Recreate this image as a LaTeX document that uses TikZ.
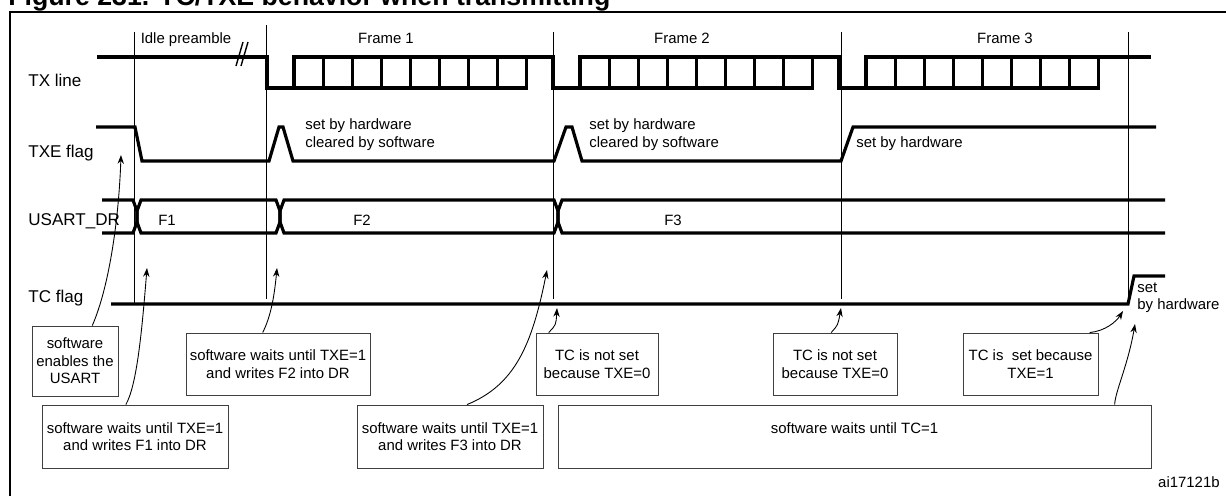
\documentclass[tikz,border=0pt]{standalone}
\usepackage{fontspec}
\setmainfont{Liberation Sans}
\usepackage{tikz}
\usetikzlibrary{positioning, arrows.meta}

\begin{document}
\begin{tikzpicture}[x=0.02cm, y=-0.02cm,
    sig/.style={line width=1.8pt},
    vline/.style={line width=0.5pt},
    lbl/.style={font=\fontsize{9.7}{11.6}\selectfont, inner sep=0pt, anchor=base west},
    txt/.style={font=\fontsize{8.5}{10}\selectfont, inner sep=0pt},
    tbox/.style={draw=black!75, line width=0.5pt, align=center, inner sep=0pt, font=\fontsize{8.5}{10}\selectfont},
    conn/.style={-{Stealth[length=5pt, width=3.6pt]}, line width=0.5pt}]

  \useasboundingbox (0,0) rectangle (1226,495);

  % frame and title
  \draw[line width=1.1pt] (10,12) rectangle (1260,530);
  \node[anchor=base west, inner sep=0pt, font=\fontsize{15.2}{18}\selectfont\bfseries] (title) at (8,5) {Figure 231. TC/TXE behavior when transmitting};

  % signal names
  \node[lbl] (txline) at (28,86) {TX line};
  \node[lbl] (txeflag) at (28,157) {TXE flag};
  \node[lbl] (usartdr) at (28,225) {USART\_DR};
  \node[lbl] (tcflag) at (28,302) {TC flag};

  % time marks
  \foreach \xa/\ya/\yb in {134/32/304, 266/25/299, 553/32/299, 841/32/299, 1128/32/305}
    \draw[vline] (\xa,\ya) -- (\xa,\yb);
  \node[txt, anchor=base] (idle) at (186,43) {Idle preamble};
  \node[txt, anchor=base] (frameone) at (386,43) {Frame 1};
  \node[txt, anchor=base] (frametwo) at (682,43) {Frame 2};
  \node[txt, anchor=base] (framethree) at (1005,43) {Frame 3};

  % TX line
  \draw[sig] (97,57) -- (267,57) -- (267,88) -- (294,88);
  \draw[sig] (527,57) -- (553,57) -- (553,88) -- (580,88);
  \draw[sig] (813,57) -- (839,57) -- (839,88) -- (866,88);
  \foreach \fs in {294,580,866}
    \foreach \bit in {0,...,7}
      \draw[sig] (\fs+\bit*29.1,57) rectangle (\fs+\bit*29.1+29.1,88);
  \draw[sig] (1099,57) -- (1151,57);
  \draw[line width=0.8pt] (236,66) -- (243,42) (241,66) -- (248,42);

  % TXE flag
  \draw[sig] (96,127) -- (135,127) -- (142,161) -- (269,161) -- (279,127) -- (283,127) -- (293,161)
    -- (554,161) -- (566,127) -- (572,127) -- (582,161) -- (841,161) -- (853,127) -- (1156,127);
  \node[txt, anchor=west, align=left] (hwsw1) at (305,134.5) {set by hardware\\cleared by software};
  \node[txt, anchor=west, align=left] (hwsw2) at (589,134.5) {set by hardware\\cleared by software};
  \node[txt, anchor=base west] (hwset) at (856,147) {set by hardware};

  % USART_DR
  \draw[sig] (102,200) -- (133,200) -- (137,211) -- (137,222) -- (141,233) -- (276,233) -- (280,222) -- (280,211)
    -- (284,200) -- (554,200) -- (558,211) -- (558,222) -- (562,233) -- (1165,233);
  \draw[sig] (102,233) -- (133,233) -- (137,222) -- (137,211) -- (141,200) -- (276,200) -- (280,211) -- (280,222)
    -- (284,233) -- (554,233) -- (558,222) -- (558,211) -- (562,200) -- (1165,200);
  \node[txt, anchor=base] (fone) at (167,225) {F1};
  \node[txt, anchor=base] (ftwo) at (362,225) {F2};
  \node[txt, anchor=base] (fthree) at (673,225) {F3};

  % TC flag
  \draw[sig] (111,304) -- (1128,304) -- (1134,276) -- (1165,276);
  \node[txt, anchor=west, align=left] (tchw) at (1137,297.5) {set\\by hardware};

  % comment boxes
  \node[tbox, minimum width=1.72cm, minimum height=1.40cm] (enable) at (75,361) {software\\enables the\\USART};
  \node[tbox, minimum width=3.72cm, minimum height=1.26cm] (waitfone) at (135,436.5) {software waits until TXE=1\\and writes F1 into DR};
  \node[tbox, minimum width=3.68cm, minimum height=1.24cm] (waitftwo) at (278,364) {software waits until TXE=1\\and writes F2 into DR};
  \node[tbox, minimum width=3.72cm, minimum height=1.26cm] (waitfthree) at (450,436.5) {software waits until TXE=1\\and writes F3 into DR};
  \node[tbox, minimum width=2.44cm, minimum height=1.24cm] (tcnotone) at (597,364) {TC is not set\\because TXE=0};
  \node[tbox, minimum width=2.48cm, minimum height=1.24cm] (tcnottwo) at (835,364) {TC is not set\\because TXE=0};
  \node[tbox, minimum width=2.70cm, minimum height=1.24cm] (tcset) at (1030.5,364) {TC is\ \ set because\\TXE=1};
  \node[tbox, minimum width=11.86cm, minimum height=1.26cm] (waittc) at (854.5,436.5) {software waits until TC=1\\~};

  % arrow tips
  \coordinate (txetip) at (121,155);
  \coordinate (fonetip) at (147,268);
  \coordinate (ftwotip) at (277,268);
  \coordinate (fthreetip) at (547,270);
  \coordinate (tconetip) at (557,308);
  \coordinate (tctwotip) at (841,308);
  \coordinate (tcsettip) at (1123,311);
  \coordinate (tcwaittip) at (1135,324);

  \draw[conn] (enable.64) .. controls (110,285) and (119,215) .. (txetip);
  \draw[conn] (waitfone.106) .. controls (137,385) and (142,330) .. (fonetip);
  \draw[conn] (waitftwo.116) .. controls (270,318) and (274,300) .. (ftwotip);
  \draw[conn] (waitfthree.62) .. controls (515,385) and (532,345) .. (fthreetip);
  \draw[conn] (tcnotone.147) .. controls (556,325) .. (tconetip);
  \draw[conn] (tcnottwo.97) .. controls (838,325) .. (tctwotip);
  \draw[conn] (tcset.28) .. controls (1105,331) and (1116,322) .. (tcsettip);
  \draw[conn] (waittc.7.4) .. controls (1115,392) and (1128,365) .. (tcwaittip);

  \node[txt, anchor=base east] (code) at (1220,487) {ai17121b};
\end{tikzpicture}
\end{document}
